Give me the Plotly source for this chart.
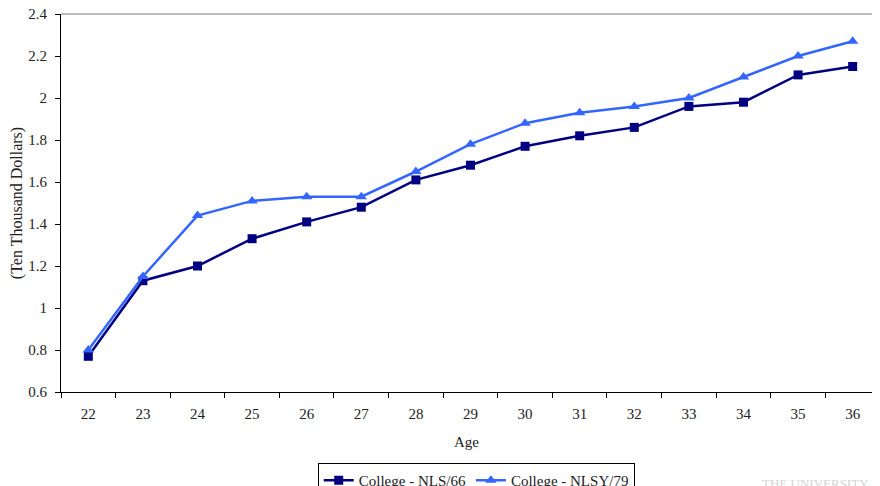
import plotly.graph_objects as go

# earnings profiles by age, college graduates (ten thousand dollars)
ages = [str(a) for a in range(22, 37)]
nls66 = [0.77, 1.13, 1.20, 1.33, 1.41, 1.48, 1.61, 1.68, 1.77, 1.82, 1.86, 1.96, 1.98, 2.11, 2.15]
nlsy79 = [0.80, 1.15, 1.44, 1.51, 1.53, 1.53, 1.65, 1.78, 1.88, 1.93, 1.96, 2.00, 2.10, 2.20, 2.27]

serif = "Liberation Serif"

fig = go.Figure()
fig.add_trace(go.Scatter(
    x=ages, y=nls66, name="College - NLS/66", mode="lines+markers",
    line=dict(color="#000080", width=2.5),
    marker=dict(symbol="square", size=9, color="#000080"),
))
fig.add_trace(go.Scatter(
    x=ages, y=nlsy79, name="College - NLSY/79", mode="lines+markers",
    line=dict(color="#3366FF", width=2.5),
    marker=dict(symbol="triangle-up", size=10, color="#3366FF"),
))

# page has an 8px body margin; legend kept inside the figure
fig.update_layout(
    width=864, height=490,
    margin=dict(l=53, r=0, t=6, b=106),
    paper_bgcolor="white", plot_bgcolor="white",
    font=dict(family=serif, size=15, color="#222"),
    showlegend=True,
    legend=dict(
        orientation="h", x=0.512, xanchor="center", y=-0.188, yanchor="top",
        bordercolor="black", borderwidth=1, font=dict(size=15, color="#222"),
        itemwidth=30, tracegroupgap=0,
    ),
)
fig.update_xaxes(
    type="category", range=[-0.5, 14.354], automargin=False,
    showline=True, linecolor="black", linewidth=1.2,
    ticks="outside", tickson="boundaries", ticklen=5, tickcolor="black",
    ticklabelstandoff=8,
    showgrid=False, title=dict(text="Age", font=dict(size=15), standoff=15),
)
fig.update_yaxes(
    range=[0.6, 2.4], dtick=0.2, automargin=False, ticklabeloverflow="allow",
    showline=True, linecolor="black", linewidth=1.2,
    ticks="outside", ticklen=5, tickcolor="black", ticklabelstandoff=5,
    showgrid=False, zeroline=False,
    title=dict(text="(Ten Thousand Dollars)", font=dict(size=16), standoff=8),
)

# grey plot-area border along the top
fig.add_shape(type="line", xref="paper", yref="paper", x0=0, x1=1, y0=1, y1=1,
              line=dict(color="#A6A6A6", width=1.5))

# faint watermark at the bottom edge
fig.add_annotation(text="THE UNIVERSITY", xref="paper", yref="paper",
                   x=0.862, y=-0.217, xanchor="left", yanchor="top",
                   showarrow=False, font=dict(size=13, color="#D4D4D4", family=serif))

fig.write_html("out.html")
